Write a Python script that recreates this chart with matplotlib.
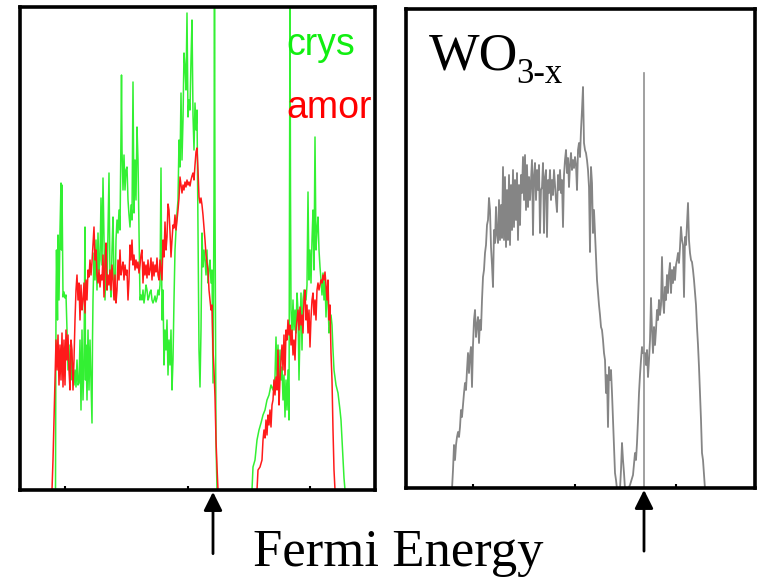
import matplotlib
matplotlib.use("Agg")
import matplotlib.pyplot as plt

# left panel: crystalline vs amorphous DOS (arbitrary channel / arbitrary units)
crys_x = [55.5, 56, 56.5, 57.5, 58, 59, 60, 61, 61.5, 62, 63, 64, 65, 66, 67, 68, 69, 70, 71, 72,
          73, 74, 75, 76, 77, 78, 79, 80, 81, 82, 83, 84, 85, 85.5, 86, 87, 88, 89, 90, 91,
          92, 92.5, 93, 94, 95, 96, 97, 98, 99, 100, 101, 102, 103, 104, 105, 106, 107, 108, 109, 110,
          111, 112, 113, 114, 115, 116, 117, 118, 119, 120, 121, 121.5, 122, 123, 124, 125, 126, 127, 128, 129,
          130, 131, 132, 133, 134, 135, 136, 137, 138, 139, 140, 141, 142, 143, 144, 145, 146, 147, 148, 149,
          150, 151, 152, 153, 154, 155, 156, 157, 158, 159, 160, 161, 162, 163, 164, 165, 166, 167, 168, 169,
          170, 171, 172, 173, 174, 175, 176, 177, 178, 179, 180, 181, 182, 183, 184, 185, 186, 187, 188, 189,
          190, 191, 192, 193, 194, 195, 196, 197, 198, 199, 200, 201, 202, 203, 204, 205, 206, 207, 208, 209,
          210, 211, 212, 213, 214, 214.5, 215, 216, 217,
          252, 253, 255, 257, 259, 261, 263, 265, 267, 269, 271, 273, 275, 276, 277, 278, 279, 280, 281, 282,
          283, 284, 285, 286, 287, 288, 289, 289.5, 290, 290.5, 291, 292, 293, 294, 295, 296, 297, 298, 299, 300,
          301, 302, 303, 304, 305, 306, 307, 308, 309, 310, 311, 312, 313, 314, 315, 316, 317, 318, 319, 320,
          321, 322, 323, 324, 325, 326, 327, 328, 329, 330, 331, 332, 333, 334, 336, 338, 340, 341, 342, 343,
          344, 345]
crys_y = [0, 190, 240, 170, 255, 190, 260, 307, 240, 305, 193, 198, 192, 195, 160, 120, 145, 105, 140, 110,
          123, 105, 120, 103, 130, 105, 107, 150, 80, 160, 90, 130, 263, 110, 145, 90, 160, 100, 150, 110,
          67, 150, 190, 237, 210, 250, 200, 257, 220, 230, 292, 225, 312, 250, 190, 230, 200, 260, 317, 210,
          193, 240, 273, 210, 190, 250, 270, 257, 280, 260, 355, 415, 340, 300, 335, 300, 320, 323, 290, 275,
          263, 285, 270, 408, 277, 330, 290, 363, 330, 260, 190, 195, 190, 200, 187, 195, 205, 200, 190, 193,
          198, 200, 190, 187, 190, 194, 188, 192, 200, 195, 205, 322, 170, 200, 125, 160, 140, 170, 115, 150,
          125, 160, 100, 130, 190, 240, 260, 277, 290, 350, 323, 397, 330, 370, 437, 423, 400, 477, 373, 390,
          380, 430, 470, 375, 340, 387, 360, 380, 260, 140, 103, 160, 257, 223, 240, 230, 215, 240, 207, 220,
          230, 207, 220, 107, 290, 500, 290, 47, 0,
          0, 23, 30, 50, 60, 67, 75, 80, 90, 95, 105, 100, 113, 153, 110, 145, 103, 140, 110, 123,
          90, 115, 73, 110, 80, 120, 70, 297, 500, 297, 180, 157, 190, 160, 180, 157, 197, 180, 110, 160,
          197, 140, 190, 200, 195, 190, 205, 298, 210, 240, 207, 250, 280, 220, 353, 240, 260, 273, 240, 223,
          210, 195, 217, 190, 210, 173, 200, 190, 157, 165, 175, 165, 140, 120, 105, 97, 80, 70, 50, 30,
          12, 0]

amor_x = list(range(52, 219)) + [257, 258, 260, 262] + list(range(263, 336))
amor_y = [0, 30, 70, 110, 150, 120, 155, 105, 145, 110, 157, 103, 150, 105, 160, 130, 155, 120, 100, 150,
          140, 100, 130, 170, 200, 215, 190, 207, 170, 205, 180, 190, 207, 177, 210, 190, 220, 213, 230, 215,
          228, 245, 263, 230, 240, 215, 207, 220, 203, 215, 210, 235, 193, 225, 247, 200, 215, 205, 220, 200,
          225, 210, 190, 215, 187, 200, 230, 210, 240, 215, 222, 228, 210, 225, 215, 220, 190, 210, 245, 230,
          250, 225, 235, 220, 230, 222, 228, 217, 225, 235, 240, 207, 228, 215, 225, 212, 230, 215, 220, 232,
          210, 228, 214, 225, 218, 232, 215, 210, 230, 220, 210, 250, 233, 268, 240, 253, 286, 280, 258, 233,
          250, 265, 262, 275, 260, 270, 280, 292, 313, 305, 297, 305, 300, 308, 303, 310, 305, 308, 304, 310,
          314, 317, 310, 325, 338, 342, 320, 293, 287, 292, 285, 275, 263, 250, 235, 227, 220, 200, 190, 180,
          185, 140, 120, 93, 50, 23, 0,
          0, 20, 23, 30,
          50, 60, 52, 70, 55, 75, 65, 80, 63, 85, 90, 110, 95, 113, 100, 140, 85, 110, 130, 145,
          120, 155, 115, 160, 150, 170, 155, 165, 145, 160, 135, 150, 130, 160, 170, 180, 160, 183, 165, 175,
          157, 190, 200, 170, 185, 157, 180, 143, 172, 190, 197, 175, 190, 170, 200, 207, 200, 205, 210, 207,
          215, 210, 218, 205, 190, 210, 170, 185, 137, 110, 60, 20, 0]

# right panel: WO3-x
wo_x = list(range(452, 618)) + [620, 621, 622, 623, 624, 625, 628, 630, 633] + \
       list(range(635, 644)) + list(range(645, 706))
wo_y = [1, 20, 45, 30, 45, 53, 58, 53, 63, 80, 73, 85, 97, 107, 100, 120, 137, 117, 135, 143,
        103, 145, 170, 180, 153, 165, 173, 147, 170, 160, 190, 213, 220, 237, 245, 265, 270, 292, 280, 243,
        225, 203, 260, 247, 283, 255, 247, 290, 250, 285, 252, 323, 250, 313, 243, 300, 250, 315, 245, 305,
        260, 320, 263, 310, 270, 317, 250, 305, 265, 315, 297, 333, 290, 335, 280, 325, 283, 313, 290, 310,
        330, 255, 315, 327, 290, 320, 300, 325, 257, 300, 303, 327, 257, 313, 320, 253, 310, 297, 320, 290,
        310, 295, 320, 305, 290, 278, 315, 300, 320, 297, 310, 263, 315, 330, 340, 317, 332, 303, 325, 337,
        320, 330, 322, 333, 325, 300, 340, 347, 333, 360, 380, 403, 347, 340, 337, 330, 320, 303, 238, 323,
        307, 257, 280, 257, 235, 210, 197, 185, 175, 163, 160, 150, 137, 130, 97, 115, 63, 123, 110, 120,
        97, 70, 40, 17, 10, 1,
        1, 20, 47, 30, 17, 1, 1, 5, 15,
        37, 30, 47, 70, 97, 115, 130, 143, 137,
        137, 125, 140, 113, 130, 150, 192, 160, 137, 163, 145, 160, 180, 170, 190, 175, 185, 233, 190, 177,
        203, 190, 215, 197, 217, 227, 197, 220, 207, 223, 210, 225, 230, 237, 227, 243, 263, 250, 245, 193,
        253, 245, 265, 287, 250, 237, 230, 228, 220, 210, 197, 185, 163, 145, 123, 97, 70, 37, 30, 15, 1]

left_ticks = [65, 188, 310]
right_ticks = [473, 575, 676]
fermi_left = 213
fermi_right = 644
fermi_line_top = 417

W, H = 757, 577
fig = plt.figure(figsize=(W / 100, H / 100), dpi=100)

ax1 = fig.add_axes([20 / W, 1 - 489.5 / H, 355 / W, 482.5 / H])
ax1.plot(crys_x, crys_y, color="#33f033", lw=1.1)
ax1.plot(amor_x, amor_y, color="#ff1a1a", lw=1.1)
ax1.set_xlim(20, 375)
ax1.set_ylim(0.5, 483)
ax1.set_xticks(left_ticks)

ax2 = fig.add_axes([405.5 / W, 1 - 487.5 / H, 349.5 / W, 478.5 / H])
ax2.plot(wo_x, wo_y, color="#858585", lw=1.3)
ax2.plot([fermi_right, fermi_right], [0, fermi_line_top], color="#909090", lw=1.2)
ax2.set_xlim(405.5, 755)
ax2.set_ylim(2.5, 481)
ax2.set_xticks(right_ticks)

for ax in (ax1, ax2):
    ax.set_yticks([])
    ax.tick_params(axis="x", direction="in", length=3, width=1.5, labelbottom=False)
    for s in ax.spines.values():
        s.set_linewidth(2.6)

# Fermi level arrows below the panels
for ax, xf in ((ax1, fermi_left), (ax2, fermi_right)):
    ax.annotate("", xy=(xf, -0.005), xytext=(xf, -0.133),
                xycoords=("data", "axes fraction"), textcoords=("data", "axes fraction"),
                annotation_clip=False,
                arrowprops=dict(arrowstyle="-|>", color="black", lw=2, mutation_scale=28,
                                shrinkA=0, shrinkB=0))

fig.text(398 / W, 1 - 566 / H, "Fermi Energy", ha="center", va="baseline",
         fontsize=38, family="Liberation Serif")
fig.text(286 / W, 1 - 55 / H, "crys", color="#11ee11", fontsize=27, family="Liberation Sans",
         va="baseline")
fig.text(286 / W, 1 - 118 / H, "amor", color="#ff0000", fontsize=27, family="Liberation Sans",
         va="baseline")
fig.text(429 / W, 1 - 70 / H, "WO", fontsize=38.5, family="Liberation Serif", va="baseline")
fig.text(516 / W, 1 - 83 / H, "3-x", fontsize=25, family="Liberation Serif", va="baseline")

fig.savefig("out.png", dpi=100)
